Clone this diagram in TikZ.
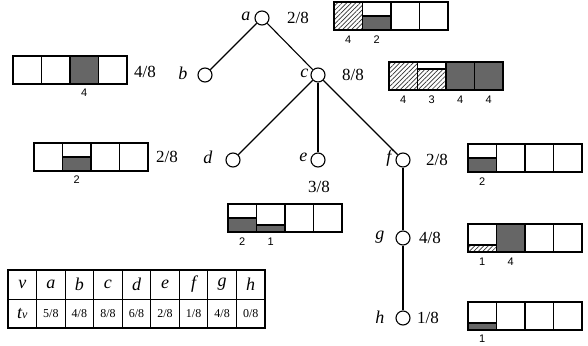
\documentclass[tikz,border=0pt]{standalone}
\usepackage{fontspec}
\setmainfont{Liberation Serif}
\newfontfamily\cellfont{Liberation Sans}
\usetikzlibrary{positioning, patterns.meta}

\begin{document}
\begin{tikzpicture}[x=1pt, y=-1pt,
    vertex/.style={circle, minimum size=14pt, inner sep=0pt, fill=white, draw=black, line width=1.1pt},
    edge/.style={line width=1.1pt},
    cell/.style={draw=black, line width=1.6pt},
    full/.style={fill=black!60},
    hatch/.style={pattern={Lines[angle=45, distance=3.2pt, line width=0.7pt]}, pattern color=black!80},
    num/.style={font=\cellfont\fontsize{11}{13}\selectfont, inner sep=0pt},
    frac/.style={font=\fontsize{17}{19}\selectfont, inner sep=0pt},
    vname/.style={font=\fontsize{18}{20}\selectfont\itshape, inner sep=0pt},
    small/.style={font=\fontsize{12}{14}\selectfont, inner sep=0pt}
]
    \useasboundingbox (0,0) rectangle (588,345);

    \node[vertex] (a) at (262,18) {};
    \node[vertex] (b) at (205,75) {};
    \node[vertex] (c) at (318,75) {};
    \node[vertex] (d) at (233,160) {};
    \node[vertex] (e) at (318,160) {};
    \node[vertex] (f) at (403,160) {};
    \node[vertex] (g) at (403,238) {};
    \node[vertex] (h) at (403,318) {};

    \draw[edge] (a) -- (b);
    \draw[edge] (a) -- (c);
    \draw[edge] (c) -- (d);
    \draw[edge] (c) -- (e);
    \draw[edge] (c) -- (f);
    \draw[edge] (f) -- (g);
    \draw[edge] (g) -- (h);

    \node[vname, left=4pt of a, yshift=2pt] (la) {a};
    \node[vname, left=10pt of b, yshift=2pt] (lb) {b};
    \node[vname, left=2pt of c, yshift=2pt] (lc) {c};
    \node[vname, left=13pt of d, yshift=3pt] (ld) {d};
    \node[vname, left=3pt of e, yshift=3pt] (le) {e};
    \node[vname, left=4pt of f, yshift=2pt] (lf) {f};
    \node[vname, left=11pt of g, yshift=1pt] (lg) {g};
    \node[vname, left=11pt of h, yshift=1pt] (lh) {h};

    \node[frac, anchor=west] (fa) at (287,18) {2/8};
    \node[frac, anchor=west] (fb) at (134,72) {4/8};
    \node[frac, anchor=west] (fc) at (342,75) {8/8};
    \node[frac, anchor=west] (fd) at (156,157) {2/8};
    \node[frac] (fe) at (319,187) {3/8};
    \node[frac, anchor=west] (ff) at (426,160) {2/8};
    \node[frac, anchor=west] (fg) at (419,238) {4/8};
    \node[frac, anchor=west] (fh) at (417,318) {1/8};

    \foreach \bx/\by in {334/2, 13/56, 389/62, 34/143, 228/204, 468/144, 468/224, 468/302}
        \foreach \i in {0,...,3}
            \draw[cell, fill=white] (\bx+\i*28.5,\by) rectangle ++(28.5,28);

    \draw[cell, hatch] (334,2) rectangle ++(28.5,28);
    \draw[cell, full] (362.5,16) rectangle ++(28.5,14);
    \node[num] at (348.25,40) {4};
    \node[num] at (376.75,40) {2};

    \draw[cell, full] (70,56) rectangle ++(28.5,28);
    \node[num] at (84.25,93) {4};

    \draw[cell, hatch] (389,62) rectangle ++(28.5,28);
    \draw[cell, hatch] (417.5,69) rectangle ++(28.5,21);
    \draw[cell, full] (446,62) rectangle ++(28.5,28);
    \draw[cell, full] (474.5,62) rectangle ++(28.5,28);
    \node[num] at (403.25,100) {4};
    \node[num] at (431.75,100) {3};
    \node[num] at (460.25,100) {4};
    \node[num] at (488.75,100) {4};

    \draw[cell, full] (62.5,157) rectangle ++(28.5,14);
    \node[num] at (76.75,180) {2};

    \draw[cell, full] (228,218) rectangle ++(28.5,14);
    \draw[cell, full] (256.5,225) rectangle ++(28.5,7);
    \node[num] at (242.25,242) {2};
    \node[num] at (270.75,242) {1};

    \draw[cell, full] (468,158) rectangle ++(28.5,14);
    \node[num] at (482.25,182) {2};

    \draw[cell, hatch] (468,245) rectangle ++(28.5,7);
    \draw[cell, full] (496.5,224) rectangle ++(28.5,28);
    \node[num] at (482.25,262) {1};
    \node[num] at (510.75,262) {4};

    \draw[cell, full] (468,323) rectangle ++(28.5,7);
    \node[num] at (482.25,339) {1};

    \draw[line width=1.4pt] (8,270) rectangle (265,328);
    \foreach \k in {1,...,8}
        \draw[line width=1pt] (8+\k*28.55,270) -- ++(0,58);
    \draw[line width=1pt] (8,299) -- (265,299);
    \node[vname] (hv) at (22.3,284.5) {v};
    \node[vname] (ht) at (22.3,313.5) {t{\fontsize{12}{14}\selectfont v}};
    \foreach \v/\p [count=\k] in {a/5, b/4, c/8, d/6, e/2, f/1, g/4, h/0} {
        \node[vname] (v\v) at (22.3+\k*28.55,284.5) {\v};
        \node[small] (t\v) at (22.3+\k*28.55,313.5) {\p/8};
    }
\end{tikzpicture}
\end{document}
